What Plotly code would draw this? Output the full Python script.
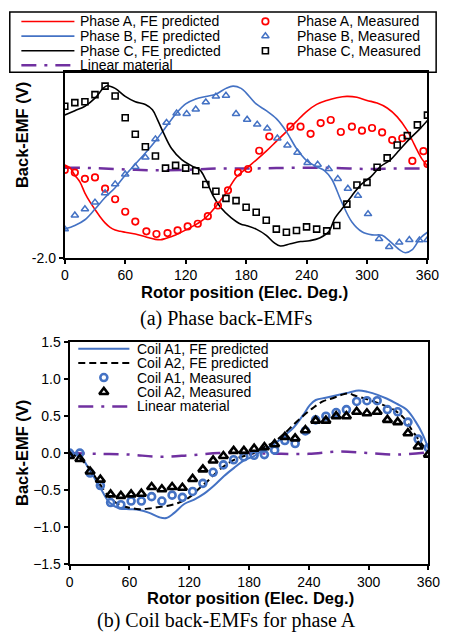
import plotly.graph_objects as go

W, H = 452, 641

# ---------------- (a) Phase back-EMFs ----------------
fe_a_x = [0, 5, 10, 15, 20, 25, 30, 35, 40, 45, 50, 55, 60, 70, 80, 90, 95, 100, 110, 120, 130, 140, 150, 160, 170,
          180, 190, 200, 210, 220, 230, 240, 250, 260, 270, 280, 290, 300, 310, 320, 330, 340, 345, 350, 355, 360]
fe_a_y = [0.08, 0.02, -0.15, -0.30, -0.55, -0.75, -0.92, -1.08, -1.22, -1.32, -1.38, -1.41, -1.43, -1.47, -1.53,
          -1.59, -1.60, -1.57, -1.49, -1.38, -1.26, -1.10, -0.85, -0.55, -0.20, 0.0, 0.19, 0.39, 0.61, 0.83, 1.06,
          1.28, 1.44, 1.53, 1.59, 1.62, 1.60, 1.53, 1.47, 1.36, 1.16, 0.85, 0.63, 0.40, 0.20, 0.06]

fe_b_x = [0, 10, 20, 30, 40, 50, 60, 70, 80, 90, 100, 110, 120, 130, 140, 150, 160, 167, 175, 180, 190, 200, 210,
          220, 230, 240, 250, 258, 265, 275, 285, 295, 305, 315, 322, 332, 338, 345, 353, 360]
fe_b_y = [-1.36, -1.28, -1.15, -0.91, -0.65, -0.43, -0.15, 0.10, 0.35, 0.62, 0.92, 1.22, 1.45, 1.56, 1.62, 1.67,
          1.80, 1.85, 1.80, 1.70, 1.45, 1.30, 1.12, 0.83, 0.45, 0.18, 0.04, -0.05, -0.24, -0.76, -1.20, -1.42,
          -1.49, -1.50, -1.62, -1.82, -1.89, -1.82, -1.56, -1.43]

fe_c_x = [0, 10, 20, 30, 38, 42, 50, 60, 70, 80, 87, 92, 98, 106, 116, 126, 134, 140, 147, 155, 165, 175, 180,
          190, 200, 208, 214, 224, 234, 243, 253, 262, 268, 275, 285, 294, 304, 313, 323, 332, 342, 352, 360]
fe_c_y = [1.20, 1.30, 1.40, 1.58, 1.80, 1.86, 1.80, 1.62, 1.50, 1.44, 1.32, 1.10, 0.80, 0.45, 0.20, 0.06, -0.03,
          -0.25, -0.60, -0.88, -1.10, -1.25, -1.28, -1.36, -1.50, -1.67, -1.74, -1.69, -1.64, -1.62, -1.56, -1.42,
          -1.12, -0.91, -0.61, -0.36, -0.18, 0.04, 0.19, 0.41, 0.66, 0.88, 1.08]

lin_x = [0, 30, 60, 90, 120, 150, 180, 210, 240, 270, 300, 330, 360]
lin_a_y = [0.02, 0.01, -0.02, -0.04, -0.03, 0.0, 0.0, 0.01, 0.02, 0.01, -0.01, 0.0, 0.0]

meas_a_x = [0, 10, 20, 30, 40, 50, 60, 70, 81, 91, 102, 112, 122, 132, 142, 152, 162, 172, 182, 193, 203, 224,
            234, 244, 254, 264, 274, 285, 295, 305, 315, 325, 335, 345, 356, 360]
meas_a_y = [-0.03, -0.09, -0.23, -0.20, -0.45, -0.69, -0.97, -1.19, -1.41, -1.47, -1.45, -1.39, -1.30, -1.24,
            -1.07, -0.83, -0.49, -0.09, -0.01, 0.40, 0.72, 0.94, 0.94, 0.78, 1.02, 1.09, 0.82, 0.94, 0.85, 0.91,
            0.81, 0.64, 0.68, 0.17, 0.39, 0.10]

meas_b_x = [0, 10, 20, 30, 40, 50, 60, 70, 80, 90, 101, 111, 121, 130, 140, 150, 160, 170, 181, 191, 201, 211,
            221, 231, 241, 251, 262, 271, 281, 291, 301, 312, 322, 332, 342, 352, 360]
meas_b_y = [-1.36, -1.05, -0.91, -0.76, -0.55, -0.35, -0.13, 0.04, 0.25, 0.66, 1.03, 1.24, 1.23, 1.33, 1.49,
            1.62, 1.64, 1.23, 1.10, 0.99, 0.90, 0.68, 0.52, 0.36, 0.13, 0.09, -0.01, -0.23, -0.45, -0.61, -1.02,
            -1.58, -1.76, -1.66, -1.60, -1.61, -1.60]

meas_c_x = list(range(0, 361, 10))
meas_c_y = [1.40, 1.48, 1.50, 1.66, 1.85, 1.63, 1.14, 0.77, 0.49, 0.28, 0.01, 0.07, 0.01, -0.05, -0.36, -0.51,
            -0.67, -0.72, -0.87, -0.98, -1.16, -1.36, -1.43, -1.39, -1.31, -1.36, -1.40, -1.28, -0.80, -0.37,
            -0.31, 0.03, 0.24, 0.53, 0.74, 0.98, 1.20]

# ---------------- (b) Coil back-EMFs for phase A ----------------
coil1_fe_x = [0, 10, 20, 30, 40, 50, 60, 70, 80, 90, 97, 105, 115, 125, 135, 145, 155, 165, 175, 185, 195, 205,
              215, 225, 235, 241, 247, 257, 267, 280, 290, 299, 309, 318, 328, 338, 347, 354, 360]
coil1_fe_y = [0.0, -0.03, -0.23, -0.45, -0.67, -0.75, -0.76, -0.77, -0.81, -0.87, -0.88, -0.81, -0.69, -0.63,
              -0.55, -0.44, -0.31, -0.20, -0.10, -0.04, 0.05, 0.12, 0.23, 0.35, 0.53, 0.65, 0.72, 0.75, 0.78,
              0.82, 0.85, 0.83, 0.79, 0.74, 0.67, 0.59, 0.43, 0.26, 0.06]

coil2_fe_x = [0, 10, 20, 30, 40, 50, 60, 70, 80, 90, 100, 110, 120, 130, 140, 150, 160, 170, 180, 186, 195, 205,
              215, 225, 234, 244, 254, 263, 273, 280, 286, 296, 305, 315, 325, 335, 344, 352, 360]
coil2_fe_y = [0.0, -0.07, -0.21, -0.41, -0.60, -0.70, -0.74, -0.76, -0.75, -0.73, -0.71, -0.67, -0.60, -0.48,
              -0.36, -0.23, -0.13, -0.06, -0.02, 0.01, 0.08, 0.15, 0.26, 0.39, 0.50, 0.61, 0.70, 0.74, 0.79, 0.81,
              0.78, 0.74, 0.70, 0.65, 0.59, 0.48, 0.30, 0.15, 0.01]

lin_b_y = [0.0, -0.01, -0.02, -0.05, -0.03, 0.0, 0.0, -0.01, -0.01, 0.02, 0.0, -0.02, 0.01]

meas_pos = [i * 360 / 35 for i in range(36)]
coil1_meas = [0.0, 0.0, -0.27, -0.44, -0.67, -0.70, -0.65, -0.65, -0.59, -0.65, -0.57, -0.60, -0.52, -0.41,
              -0.26, -0.16, -0.09, -0.05, -0.03, -0.02, 0.04, 0.17, 0.13, 0.30, 0.45, 0.50, 0.55, 0.59, 0.70,
              0.71, 0.71, 0.59, 0.56, 0.42, 0.19, 0.07]
coil2_meas = [-0.04, -0.08, -0.25, -0.36, -0.56, -0.58, -0.56, -0.55, -0.46, -0.49, -0.46, -0.47, -0.35, -0.22,
              -0.10, -0.04, 0.03, 0.03, 0.06, 0.08, 0.12, 0.22, 0.20, 0.31, 0.44, 0.44, 0.50, 0.50, 0.56, 0.54,
              0.56, 0.45, 0.42, 0.27, 0.09, -0.02]

x_ticks = [0, 60, 120, 180, 240, 300, 360]

RED, BLUE, BLACK, PURPLE = "#FF0000", "#4472C4", "#000000", "#7030A0"
LIN_DASH = "15px,8px,3px,8px"
A2_DASH = "7px,4px"
SANS = "Liberation Sans, Arial, sans-serif"
SERIF = "Liberation Serif, Times New Roman, serif"

fig = go.Figure()

# --- top chart traces
fig.add_trace(go.Scatter(x=lin_x, y=lin_a_y, mode="lines", line=dict(color=PURPLE, width=2.5, dash=LIN_DASH, shape="spline"),
                         xaxis="x", yaxis="y", name="Linear material"))
fig.add_trace(go.Scatter(x=fe_a_x, y=fe_a_y, mode="lines", line=dict(color=RED, width=1.6, shape="spline"),
                         xaxis="x", yaxis="y", name="Phase A, FE predicted"))
fig.add_trace(go.Scatter(x=fe_b_x, y=fe_b_y, mode="lines", line=dict(color=BLUE, width=1.6, shape="spline"),
                         xaxis="x", yaxis="y", name="Phase B, FE predicted"))
fig.add_trace(go.Scatter(x=fe_c_x, y=fe_c_y, mode="lines", line=dict(color=BLACK, width=1.6, shape="spline"),
                         xaxis="x", yaxis="y", name="Phase C, FE predicted"))
fig.add_trace(go.Scatter(x=meas_a_x, y=meas_a_y, mode="markers",
                         marker=dict(symbol="circle-open", size=6.5, color=RED, line=dict(width=1.7, color=RED)),
                         xaxis="x", yaxis="y", name="Phase A, Measured"))
fig.add_trace(go.Scatter(x=meas_b_x, y=meas_b_y, mode="markers",
                         marker=dict(symbol="triangle-up-open", size=6.5, color=BLUE, line=dict(width=1.5, color=BLUE)),
                         xaxis="x", yaxis="y", name="Phase B, Measured"))
fig.add_trace(go.Scatter(x=meas_c_x, y=meas_c_y, mode="markers",
                         marker=dict(symbol="square-open", size=6, color=BLACK, line=dict(width=1.6, color=BLACK)),
                         xaxis="x", yaxis="y", name="Phase C, Measured"))

# --- bottom chart traces
fig.add_trace(go.Scatter(x=lin_x, y=lin_b_y, mode="lines", line=dict(color=PURPLE, width=2.5, dash=LIN_DASH, shape="spline"),
                         xaxis="x2", yaxis="y2", name="Linear material"))
fig.add_trace(go.Scatter(x=coil1_fe_x, y=coil1_fe_y, mode="lines", line=dict(color=BLUE, width=2, shape="spline"),
                         xaxis="x2", yaxis="y2", name="Coil A1, FE predicted"))
fig.add_trace(go.Scatter(x=coil2_fe_x, y=coil2_fe_y, mode="lines", line=dict(color=BLACK, width=2, dash=A2_DASH, shape="spline"),
                         xaxis="x2", yaxis="y2", name="Coil A2, FE predicted"))
fig.add_trace(go.Scatter(x=meas_pos, y=coil1_meas, mode="markers",
                         marker=dict(symbol="circle-open", size=7, color=BLUE, line=dict(width=2.6, color=BLUE)),
                         xaxis="x2", yaxis="y2", name="Coil A1, Measured"))
fig.add_trace(go.Scatter(x=meas_pos, y=coil2_meas, mode="markers",
                         marker=dict(symbol="triangle-up-open", size=8, color=BLACK, line=dict(width=2.6, color=BLACK)),
                         xaxis="x2", yaxis="y2", name="Coil A2, Measured"))

# --- legends drawn on a pixel overlay (layout only)
leg_top_rows = [13.8, 28.8, 43.8, 58.8]
leg_top_lines = [("Phase A, FE predicted", RED, None, 1.6), ("Phase B, FE predicted", BLUE, None, 1.6),
                 ("Phase C, FE predicted", BLACK, None, 1.6), ("Linear material", PURPLE, LIN_DASH, 2.5)]
leg_top_marks = [("Phase A, Measured", "circle-open", RED, 6.5, 1.7),
                 ("Phase B, Measured", "triangle-up-open", BLUE, 6.5, 1.5),
                 ("Phase C, Measured", "square-open", BLACK, 6, 1.6)]
leg_bot_rows = [349.4, 364.2, 379.0, 393.8, 408.6]
leg_bot = [("Coil A1, FE predicted", "line", BLUE, None, 2),
           ("Coil A2, FE predicted", "line", BLACK, A2_DASH, 2),
           ("Coil A1, Measured", "circle-open", BLUE, 7, 2.6),
           ("Coil A2, Measured", "triangle-up-open", BLACK, 8, 2.6),
           ("Linear material", "line", PURPLE, LIN_DASH, 2.5)]
LEG_FONT = 14

annotations = []
def txt(x, y, s, size=LEG_FONT, anchor="left", family=SANS, bold=False, angle=0):
    annotations.append(dict(x=x / W, y=1 - y / H, xref="paper", yref="paper", text=("<b>%s</b>" % s) if bold else s,
                            showarrow=False, xanchor=anchor, yanchor="middle", textangle=angle, borderpad=0,
                            font=dict(family=family, size=size, color="#000000")))

for (name, col, dash, lw), yy in zip(leg_top_lines, leg_top_rows):
    fig.add_trace(go.Scatter(x=[18, 73], y=[yy, yy], mode="lines", line=dict(color=col, width=lw, dash=dash),
                             xaxis="x3", yaxis="y3", hoverinfo="skip"))
    txt(78, yy, name)
for (name, sym, col, sz, lw), yy in zip(leg_top_marks, leg_top_rows):
    fig.add_trace(go.Scatter(x=[271], y=[yy], mode="markers",
                             marker=dict(symbol=sym, size=sz, color=col, line=dict(width=lw, color=col)),
                             xaxis="x3", yaxis="y3", hoverinfo="skip"))
    txt(303, yy, name)
for (name, kind, col, p, lw), yy in zip(leg_bot, leg_bot_rows):
    if kind == "line":
        fig.add_trace(go.Scatter(x=[77, 130], y=[yy, yy], mode="lines", line=dict(color=col, width=lw, dash=p),
                                 xaxis="x3", yaxis="y3", hoverinfo="skip"))
    else:
        fig.add_trace(go.Scatter(x=[103.5], y=[yy], mode="markers",
                                 marker=dict(symbol=kind, size=p, color=col, line=dict(width=lw, color=col)),
                                 xaxis="x3", yaxis="y3", hoverinfo="skip"))
    txt(137, yy, name)

# titles and captions
txt(249, 291, "Rotor position (Elec. Deg.)", size=16.5, anchor="center", bold=True)
txt(256, 605.5, "Rotor position (Elec. Deg.)", size=16.5, anchor="center", bold=True)
txt(18, 130, "Back-EMF (V)", size=16.5, anchor="center", bold=True, angle=-90)
txt(18, 456, "Back-EMF (V)", size=16.5, anchor="center", bold=True, angle=-90)
txt(230, 318, "(a) Phase back-EMFs", size=20, anchor="center", family=SERIF)
txt(230.5, 628, "(b) Coil back-EMFs for phase A", size=20, anchor="center", family=SERIF)

axis_common = dict(showline=True, linecolor="#000000", linewidth=2, mirror=True, showgrid=False, zeroline=False,
                   ticks="outside", ticklen=4, tickwidth=1.5, tickcolor="#000000",
                   tickfont=dict(family=SANS, size=14, color="#000000"))

fig.update_layout(
    width=W, height=H, margin=dict(l=0, r=0, t=0, b=0),
    paper_bgcolor="white", plot_bgcolor="rgba(0,0,0,0)", showlegend=False,
    xaxis=dict(domain=[63 / W, 439 / W], range=[0, 360], tickvals=x_ticks, anchor="y", **axis_common),
    yaxis=dict(domain=[1 - 256 / H, 1 - 66 / H], range=[-2.0, 2.16], tickvals=[-2.0], ticktext=["-2.0"],
               anchor="x", **axis_common),
    xaxis2=dict(domain=[68 / W, 440 / W], range=[0, 360], tickvals=x_ticks, anchor="y2", **axis_common),
    yaxis2=dict(domain=[1 - 570 / H, 1 - 343 / H], range=[-1.5, 1.5], dtick=0.5, tickformat=".1f",
                anchor="x2", **axis_common),
    xaxis3=dict(domain=[0, 1], range=[0, W], visible=False, anchor="y3", fixedrange=True),
    yaxis3=dict(domain=[0, 1], range=[H, 0], visible=False, anchor="x3", fixedrange=True),
    shapes=[dict(type="rect", xref="paper", yref="paper", x0=6 / W, x1=448 / W, y0=1 - 66 / H, y1=1 - 4 / H,
                 line=dict(color="#000000", width=1.5), fillcolor="rgba(0,0,0,0)")],
    annotations=annotations,
)

fig.write_html("out.html", config={"displayModeBar": False},
               post_script="document.body.style.margin='0px';document.body.style.padding='0px';"
                           "document.body.style.overflow='hidden';")
